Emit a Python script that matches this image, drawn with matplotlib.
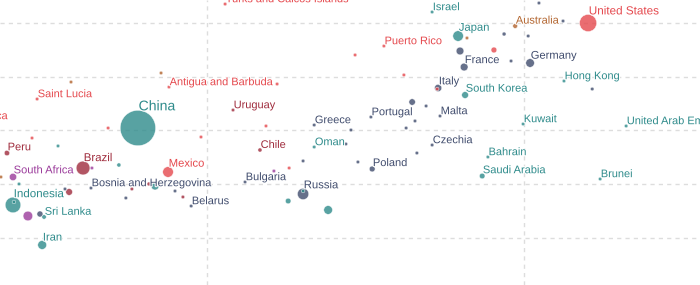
import matplotlib
matplotlib.use("Agg")
import numpy as np
import matplotlib.pyplot as plt
import matplotlib.patheffects as pe

plt.rcParams['font.family'] = ['Liberation Sans', 'DejaVu Sans']

COLORS = {
    "na": "#e5484d",   # North America / Caribbean
    "sa": "#9f2b3c",   # South America
    "as": "#2e8b8b",   # Asia
    "eu": "#404c6d",   # Europe
    "oc": "#b2642e",   # Oceania
    "af": "#9b3b9b",   # Africa
}

NAMES = [
    "Turks and Caicos Islands", "Saint Lucia", "Antigua and Barbuda", "Jamaica", "Uruguay",
    "China", "Peru", "Brazil", "South Africa", "Mexico",
    "Bosnia and Herzegovina", "Belarus", "Indonesia", "Sri Lanka", "Iran",
    "Chile", "Oman", "Bulgaria", "Russia", "Poland",
    "Czechia", "Bahrain", "Saudi Arabia", "Brunei", "Israel",
    "Japan", "Puerto Rico", "France", "Italy", "South Korea",
    "Malta", "Portugal", "Greece", "United States", "Australia",
    "Germany", "Hong Kong", "Kuwait", "United Arab Emirates",
    # not labelled on the chart
    "Fiji", "Samoa", "Costa Rica", "Grenada", "Barbados",
    "Lebanon", "Mauritius", "Armenia", "Tonga", "Kazakhstan",
    "Thailand", "Ecuador", "Paraguay", "Serbia", "Suriname",
    "Albania", "North Macedonia", "Colombia", "Bhutan", "Egypt",
    "Ukraine", "Croatia", "Panama", "Hungary", "Seychelles",
    "Turkmenistan", "Uzbekistan", "Turkey", "Slovakia", "Lithuania",
    "Bahamas", "Aruba", "Trinidad and Tobago", "United Kingdom", "New Zealand",
    "Cayman Islands", "Spain", "Slovenia", "Estonia", "Cyprus",
    "Latvia", "Saint Kitts and Nevis", "Luxembourg", "Switzerland", "Netherlands",
    "Sweden", "Canada", "Belgium", "Norway",
]

REGIONS = [
    "na", "na", "na", "na", "sa",
    "as", "sa", "sa", "af", "na",
    "eu", "eu", "as", "as", "as",
    "sa", "as", "eu", "eu", "eu",
    "eu", "as", "as", "as", "as",
    "as", "na", "eu", "eu", "as",
    "eu", "eu", "eu", "na", "oc",
    "eu", "as", "as", "as",
    "oc", "oc", "na", "na", "na",
    "as", "af", "as", "oc", "as",
    "as", "sa", "sa", "eu", "sa",
    "eu", "eu", "sa", "as", "af",
    "eu", "eu", "na", "eu", "af",
    "as", "as", "as", "eu", "eu",
    "na", "na", "na", "eu", "oc",
    "na", "eu", "eu", "eu", "eu",
    "eu", "na", "eu", "eu", "eu",
    "eu", "na", "eu", "eu",
]

X_VALUES = [
    10.57, 4.64, 8.80, 2.40, 10.82,
    7.82, 3.69, 6.09, 3.88, 8.77,
    6.34, 9.50, 3.88, 4.86, 4.80,
    11.67, 13.38, 11.20, 13.03, 15.21,
    17.10, 18.86, 18.68, 22.40, 17.10,
    17.92, 15.58, 18.11, 17.29, 18.14,
    17.35, 15.17, 13.38, 22.02, 19.72,
    20.19, 21.26, 19.97, 23.22,
    8.55, 5.71, 6.88, 4.48, 9.81,
    5.30, 6.37, 4.07, 3.50, 7.22,
    8.36, 8.17, 7.63, 8.99, 9.24,
    7.44, 5.52, 5.65, 3.91, 4.35,
    4.73, 13.03, 12.59, 14.38, 12.11,
    13.03, 12.56, 13.82, 14.76, 16.62,
    14.67, 16.21, 12.21, 17.98, 18.20,
    17.26, 16.47, 16.91, 16.56, 16.28,
    14.54, 11.86, 20.47, 21.23, 19.37,
    20.13, 19.05, 19.59, 22.15,
]

Y_VALUES = [
    83.53, 65.86, 68.09, 61.77, 63.81,
    60.46, 55.81, 53.02, 51.35, 52.28,
    49.30, 45.95, 46.14, 43.91, 38.70,
    56.37, 56.93, 50.42, 48.19, 52.84,
    57.30, 55.07, 51.53, 50.98, 82.05,
    77.58, 75.72, 71.81, 67.91, 66.60,
    62.70, 62.51, 61.02, 80.00, 79.44,
    72.56, 69.21, 61.21, 60.84,
    70.70, 69.02, 60.46, 58.60, 58.79,
    57.12, 53.02, 50.05, 51.35, 53.58,
    49.67, 50.05, 49.12, 48.74, 47.63,
    47.44, 49.12, 48.56, 46.70, 44.09,
    44.46, 54.33, 53.02, 57.49, 52.46,
    48.74, 46.88, 45.21, 54.14, 55.81,
    74.05, 70.33, 68.65, 74.79, 77.21,
    67.72, 65.30, 64.56, 61.77, 60.46,
    60.09, 60.84, 83.72, 80.37, 77.95,
    77.58, 74.98, 72.93, 67.72,
]

# population, millions
POPULATION = [
    0.05, 0.18, 0.1, 2.8, 3.4,
    1412, 33, 214, 60, 127,
    3.3, 9.3, 274, 22, 88,
    19, 4.5, 6.9, 144, 38,
    10.5, 1.5, 35, 0.45, 9.4,
    125, 3.2, 68, 59, 52,
    0.5, 10.3, 10.4, 333, 26,
    83, 7.4, 4.3, 9.4,
    0.9, 0.2, 5.2, 0.1, 0.3,
    5.5, 1.3, 2.8, 0.1, 19,
    70, 18, 6.7, 6.8, 0.6,
    2.8, 2.1, 51, 0.8, 104,
    41, 3.9, 4.4, 9.7, 0.1,
    6.3, 35, 85, 5.4, 2.8,
    0.4, 0.1, 1.5, 67, 5.1,
    0.07, 47, 2.1, 1.3, 1.2,
    1.9, 0.05, 0.6, 8.7, 17.5,
    10.4, 38, 11.6, 5.4,
]

N_LABELED = 39


def radius_px(pop):
    return max(np.sqrt(0.222 * pop), 1.8)


fig = plt.figure(figsize=(7, 2.85), dpi=100)
ax = fig.add_axes([0, 0, 1, 1])

order = np.argsort(POPULATION)[::-1]
xs = [X_VALUES[i] for i in order]
ys = [Y_VALUES[i] for i in order]
sizes = [(2 * radius_px(POPULATION[i]) * 0.72) ** 2 for i in order]
cols = [COLORS[REGIONS[i]] for i in order]
ax.scatter(xs, ys, s=sizes, c=cols, alpha=0.8, edgecolors='white', linewidths=0.4, zorder=2)

for i in range(N_LABELED):
    r_pt = radius_px(POPULATION[i]) * 0.72
    ax.annotate(NAMES[i], (X_VALUES[i], Y_VALUES[i]), xytext=(0.5, r_pt),
                textcoords='offset points', ha='left', va='baseline',
                fontsize=7.9 + 2.2 * POPULATION[i] / 1412,
                color=COLORS[REGIONS[i]], annotation_clip=False, zorder=3,
                path_effects=[pe.withStroke(linewidth=1.5, foreground='white')])

ax.set_xlim(3.47, 25.55)
ax.set_ylim(31.25, 84.28)
ax.set_xticks([10, 20])
ax.set_yticks([40, 50, 60, 70, 80])
ax.grid(True, color='#dddddd', linestyle=(0, (3, 3)), linewidth=1)
ax.set_axisbelow(True)
ax.tick_params(length=0, labelbottom=False, labelleft=False)
for sp in ax.spines.values():
    sp.set_visible(False)

fig.savefig('out.png', dpi=100)
